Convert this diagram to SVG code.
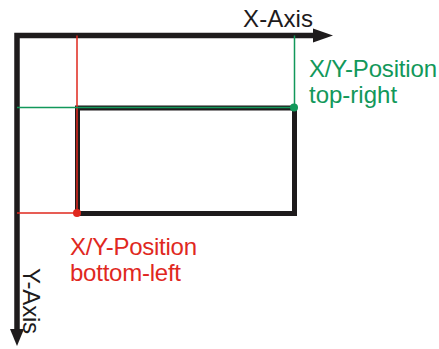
<svg xmlns="http://www.w3.org/2000/svg" width="439" height="349" viewBox="0 0 439 349">
<style>
.axis{stroke:#1e1b1c;stroke-width:5.5;fill:none}
.box{stroke:#1e1b1c;stroke-width:5;fill:none}
.red{stroke:#e0281e;stroke-width:1.5;fill:none}
.green{stroke:#12985a;stroke-width:1.5;fill:none}
.t{font-family:"Liberation Sans",Arial,sans-serif;font-size:24px}
.tk{fill:#1e1b1c}
.tr{fill:#e0281e}
.tg{fill:#12985a}
</style>
<rect width="439" height="349" fill="#ffffff"/>
<g id="connectors">
<path class="axis" d="M17,332 V35.5 H316"/>
<polygon points="313,28.5 333,35.5 313,42.5" fill="#1e1b1c"/>
<polygon points="10,329 17,346 24,329" fill="#1e1b1c"/>
</g>
<g id="rectangle">
<rect class="box" x="77.5" y="108" width="217" height="105.5"/>
</g>
<g id="guides">
<path class="red" d="M77,35.5 V213 H17"/>
<path class="green" d="M294.5,35.5 V107.5 H17"/>
</g>
<g id="point-bottom-left">
<circle cx="77" cy="213" r="4" fill="#e0281e"/>
</g>
<g id="point-top-right">
<circle cx="294" cy="107.5" r="4" fill="#12985a"/>
</g>
<g id="label-x-axis">
<text class="t tk" x="243" y="27" textLength="70">X-Axis</text>
</g>
<g id="label-y-axis">
<text class="t tk" transform="translate(23,268) rotate(90)" textLength="66">Y-Axis</text>
</g>
<g id="label-top-right">
<text class="t tg" x="309" y="77" textLength="128">X/Y-Position</text>
<text class="t tg" x="309" y="103">top-right</text>
</g>
<g id="label-bottom-left">
<text class="t tr" x="70" y="255" textLength="127">X/Y-Position</text>
<text class="t tr" x="70" y="281" textLength="111">bottom-left</text>
</g>
</svg>
